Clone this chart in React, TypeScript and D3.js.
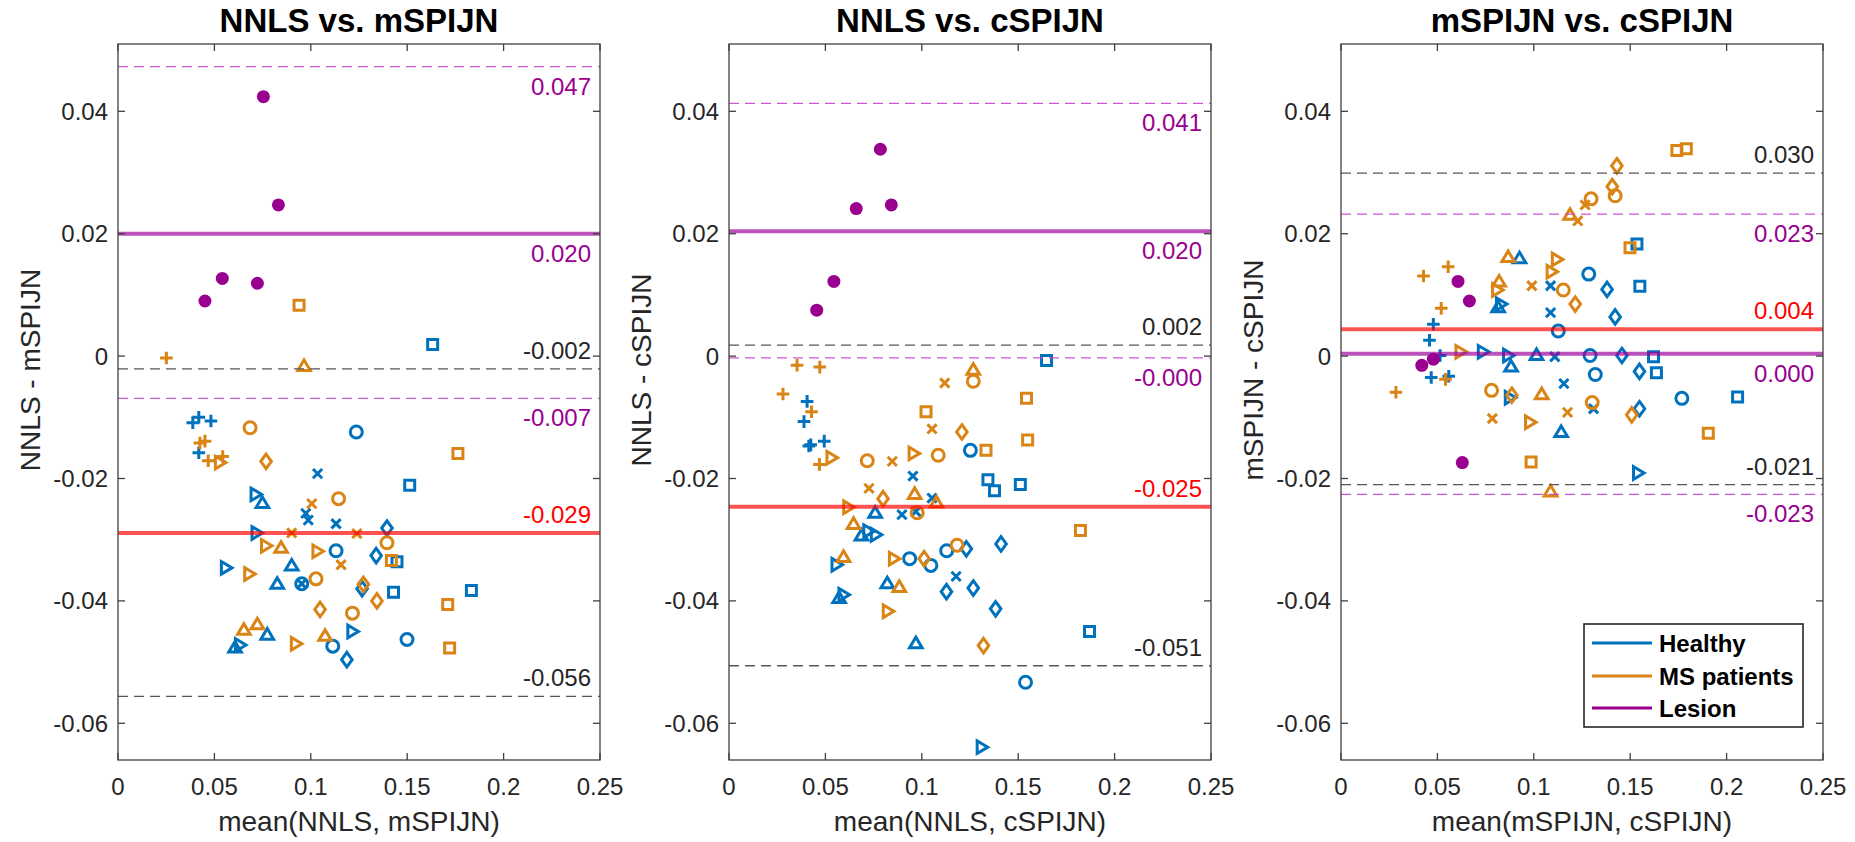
import React from "react";
import * as d3 from "d3";

// ---------------- DATA ----------------
const titles = ["NNLS vs. mSPIJN", "NNLS vs. cSPIJN", "mSPIJN vs. cSPIJN"];
const xLabels = ["mean(NNLS, mSPIJN)", "mean(NNLS, cSPIJN)", "mean(mSPIJN, cSPIJN)"];
const yLabels = ["NNLS - mSPIJN", "NNLS - cSPIJN", "mSPIJN - cSPIJN"];
const xTicks = [0, 0.05, 0.1, 0.15, 0.2, 0.25];
const yTicks = [-0.06, -0.04, -0.02, 0, 0.02, 0.04];
const legendItems = ["Healthy", "MS patients", "Lesion"];

type Pt = [string, number, number];

const p1Healthy: Pt[] = [
  ["+", 0.0388, -0.0109], ["+", 0.0419, -0.01], ["+", 0.0482, -0.0106], ["+", 0.0419, -0.0158],
  ["o", 0.1236, -0.0124], ["o", 0.1131, -0.0318], ["o", 0.0953, -0.0372], ["o", 0.1114, -0.0474], ["o", 0.1499, -0.0463],
  ["x", 0.1035, -0.0192], ["x", 0.0974, -0.0257], ["x", 0.0987, -0.0268], ["x", 0.1131, -0.0274], ["x", 0.0953, -0.0372],
  ["s", 0.1513, -0.0211], ["s", 0.1447, -0.0336], ["s", 0.1429, -0.0386], ["s", 0.1833, -0.0383], ["s", 0.1632, 0.0019],
  ["d", 0.1395, -0.0281], ["d", 0.1339, -0.0326], ["d", 0.1266, -0.038], ["d", 0.1187, -0.0496],
  ["^", 0.0749, -0.024], ["^", 0.0901, -0.0342], ["^", 0.0826, -0.0372], ["^", 0.0774, -0.0455], ["^", 0.0607, -0.0476],
  [">", 0.0714, -0.0226], [">", 0.0719, -0.0289], [">", 0.056, -0.0346], [">", 0.1216, -0.045], [">", 0.0633, -0.0472],
];
const p1MS: Pt[] = [
  ["+", 0.0425, -0.0142], ["+", 0.0451, -0.0139], ["+", 0.0468, -0.0171], ["+", 0.0543, -0.0164], ["+", 0.0251, -0.0003],
  ["o", 0.0685, -0.0117], ["o", 0.1144, -0.0233], ["o", 0.1395, -0.0305], ["o", 0.1027, -0.0364], ["o", 0.1216, -0.042],
  ["x", 0.1005, -0.0241], ["x", 0.0901, -0.0289], ["x", 0.1239, -0.029], ["x", 0.1157, -0.0341],
  ["s", 0.1763, -0.0159], ["s", 0.1418, -0.0334], ["s", 0.171, -0.0406], ["s", 0.172, -0.0477], ["s", 0.0939, 0.0083],
  ["d", 0.0768, -0.0172], ["d", 0.1273, -0.0373], ["d", 0.1343, -0.04], ["d", 0.1048, -0.0414],
  ["^", 0.0846, -0.0313], ["^", 0.0653, -0.0447], ["^", 0.0723, -0.0438], ["^", 0.1074, -0.0457], ["^", 0.0965, -0.0016],
  [">", 0.0529, -0.0174], [">", 0.0768, -0.031], [">", 0.1035, -0.0319], [">", 0.0681, -0.0356], [">", 0.0923, -0.047],
];
const p1Lesion: [number, number][] = [
  [0.0754, 0.0424], [0.0832, 0.0247], [0.0541, 0.0127], [0.0451, 0.009], [0.0723, 0.0119],
];

const p2Healthy: Pt[] = [
  ["+", 0.0405, -0.0074], ["+", 0.0389, -0.0107], ["+", 0.0414, -0.0147], ["+", 0.0424, -0.0145], ["+", 0.0494, -0.0139],
  ["o", 0.1252, -0.0154], ["o", 0.1129, -0.0318], ["o", 0.0937, -0.0331], ["o", 0.1047, -0.0342], ["o", 0.1538, -0.0533],
  ["x", 0.0954, -0.0196], ["x", 0.1053, -0.0232], ["x", 0.0897, -0.0259], ["x", 0.0969, -0.0254], ["x", 0.1178, -0.036],
  ["s", 0.1647, -0.0007], ["s", 0.1343, -0.0202], ["s", 0.1377, -0.022], ["s", 0.1511, -0.021], ["s", 0.187, -0.045],
  ["d", 0.1231, -0.0315], ["d", 0.1411, -0.0307], ["d", 0.1128, -0.0385], ["d", 0.1267, -0.0379], ["d", 0.1383, -0.0413],
  ["^", 0.0758, -0.0256], ["^", 0.0687, -0.0293], ["^", 0.0821, -0.0371], ["^", 0.0571, -0.0395], ["^", 0.0969, -0.0469],
  [">", 0.0723, -0.0286], [">", 0.0762, -0.0292], [">", 0.0558, -0.0341], [">", 0.0594, -0.039], [">", 0.1311, -0.0639],
];
const p2MS: Pt[] = [
  ["+", 0.0353, -0.0015], ["+", 0.0471, -0.0018], ["+", 0.028, -0.0062], ["+", 0.0428, -0.0091], ["+", 0.0469, -0.0177],
  ["o", 0.1267, -0.0041], ["o", 0.1085, -0.0162], ["o", 0.0717, -0.0171], ["o", 0.0976, -0.0256], ["o", 0.1183, -0.0309],
  ["x", 0.1119, -0.0044], ["x", 0.1053, -0.0119], ["x", 0.0847, -0.0172], ["x", 0.0726, -0.0216],
  ["s", 0.1543, -0.0069], ["s", 0.1022, -0.0091], ["s", 0.1549, -0.0137], ["s", 0.1333, -0.0154], ["s", 0.1823, -0.0285],
  ["d", 0.1208, -0.0124], ["d", 0.0799, -0.0233], ["d", 0.1012, -0.0331], ["d", 0.132, -0.0473],
  ["^", 0.1267, -0.0022], ["^", 0.0963, -0.0225], ["^", 0.1076, -0.0239], ["^", 0.0646, -0.0274], ["^", 0.0594, -0.0328], ["^", 0.0883, -0.0377],
  [">", 0.0532, -0.0166], [">", 0.0958, -0.0159], [">", 0.0619, -0.0247], [">", 0.0856, -0.0331], [">", 0.0824, -0.0417],
];
const p2Lesion: [number, number][] = [
  [0.066, 0.0241], [0.0785, 0.0338], [0.0842, 0.0247], [0.0544, 0.0122], [0.0455, 0.0075],
];

const p3Healthy: Pt[] = [
  ["+", 0.0479, 0.0052], ["+", 0.0459, 0.0026], ["+", 0.0514, 0.0001], ["+", 0.0468, -0.0035], ["+", 0.0559, -0.0033],
  ["o", 0.1285, 0.0134], ["o", 0.1127, 0.0041], ["o", 0.1292, 0.0001], ["o", 0.1319, -0.003], ["o", 0.1768, -0.0069],
  ["x", 0.1087, 0.0115], ["x", 0.1087, 0.0071], ["x", 0.1109, -0.0001], ["x", 0.1156, -0.0045], ["x", 0.131, -0.0086],
  ["s", 0.1535, 0.0183], ["s", 0.155, 0.0114], ["s", 0.1621, -0.0001], ["s", 0.1636, -0.0027], ["s", 0.2057, -0.0067],
  ["d", 0.138, 0.0109], ["d", 0.1422, 0.0064], ["d", 0.1457, 0.0001], ["d", 0.1548, -0.0025], ["d", 0.1548, -0.0086],
  ["^", 0.0926, 0.016], ["^", 0.0815, 0.008], ["^", 0.1014, 0.0002], ["^", 0.0882, -0.0017], ["^", 0.1142, -0.0124],
  [">", 0.083, 0.0085], [">", 0.0736, 0.0007], [">", 0.0867, 0.0001], [">", 0.0876, -0.0068], [">", 0.1541, -0.0191],
];
const p3MS: Pt[] = [
  ["+", 0.0556, 0.0146], ["+", 0.0428, 0.0131], ["+", 0.052, 0.0078], ["+", 0.0542, -0.0038], ["+", 0.0285, -0.0059],
  ["o", 0.1422, 0.0262], ["o", 0.1297, 0.0257], ["o", 0.1153, 0.0108], ["o", 0.0781, -0.0056], ["o", 0.1303, -0.0076],
  ["x", 0.1266, 0.0247], ["x", 0.1228, 0.0221], ["x", 0.099, 0.0115], ["x", 0.0785, -0.0102], ["x", 0.1175, -0.0092],
  ["s", 0.1742, 0.0336], ["s", 0.1791, 0.0339], ["s", 0.1499, 0.0177], ["s", 0.1905, -0.0126], ["s", 0.0986, -0.0173],
  ["d", 0.1431, 0.0311], ["d", 0.1407, 0.0277], ["d", 0.1215, 0.0085], ["d", 0.0886, -0.0064], ["d", 0.1508, -0.0096],
  ["^", 0.1188, 0.0231], ["^", 0.0867, 0.0162], ["^", 0.082, 0.0122], ["^", 0.1041, -0.0062], ["^", 0.1087, -0.0221],
  [">", 0.112, 0.0158], [">", 0.1093, 0.0138], [">", 0.081, 0.0108], [">", 0.062, 0.0007], [">", 0.0981, -0.0108],
];
const p3Lesion: [number, number][] = [
  [0.0607, 0.0122], [0.0666, 0.009], [0.0479, -0.0005], [0.0419, -0.0015], [0.0629, -0.0174],
];

// reference lines: [value, kind]
const p1Lines: [number, string][] = [
  [0.0473, "lesionLoa"], [0.02, "lesionMean"], [-0.0021, "loa"], [-0.0069, "lesionLoa"], [-0.0289, "mean"], [-0.0556, "loa"],
];
const p2Lines: [number, string][] = [
  [0.0413, "lesionLoa"], [0.0204, "lesionMean"], [0.0018, "loa"], [-0.0003, "lesionLoa"], [-0.0246, "mean"], [-0.0506, "loa"],
];
const p3Lines: [number, string][] = [
  [0.0299, "loa"], [0.0232, "lesionLoa"], [0.0044, "mean"], [0.0004, "lesionMean"], [-0.021, "loa"], [-0.0226, "lesionLoa"],
];

const panels = [
  { healthy: p1Healthy, ms: p1MS, lesion: p1Lesion, lines: p1Lines },
  { healthy: p2Healthy, ms: p2MS, lesion: p2Lesion, lines: p2Lines },
  { healthy: p3Healthy, ms: p3MS, lesion: p3Lesion, lines: p3Lines },
];

// ---------------- STYLE / LAYOUT ----------------
const W = 1855;
const H = 842;
const panelLefts = [118, 729, 1341];
const plotW = 482;
const plotTop = 44;
const plotBottom = 760;
const FONT = "'Liberation Sans', Arial, Helvetica, sans-serif";
const BLUE = "#0072BD";
const ORANGE = "#DA8415";
const PURPLE = "#990090";
const AXIS = "#404040";

const colorOf = [BLUE, ORANGE, PURPLE];

function markerPath(m: string): string {
  switch (m) {
    case "+": return "M-6.3,0H6.3M0,-6.3V6.3";
    case "x": return "M-4.6,-4.6L4.6,4.6M-4.6,4.6L4.6,-4.6";
    case "o": return "M6,0A6,6 0 1,1 -6,0A6,6 0 1,1 6,0Z";
    case "s": return "M-5,-5H5V5H-5Z";
    case "d": return "M0,-7.3L5.3,0L0,7.3L-5.3,0Z";
    case "^": return "M0,-6L6.3,4.6L-6.3,4.6Z";
    case ">": return "M6,0L-4.6,6.3L-4.6,-6.3Z";
    default: return "";
  }
}

const lineStyle: Record<string, any> = {
  mean: { stroke: "#FF0000", opacity: 0.68, width: 4, dash: undefined, label: "#FF0000", above: true },
  lesionMean: { stroke: "#990099", opacity: 0.68, width: 4, dash: undefined, label: PURPLE, above: false },
  loa: { stroke: "#555555", opacity: 1, width: 1.3, dash: "10 6", label: "#262626", above: true },
  lesionLoa: { stroke: "#CC44CC", opacity: 0.9, width: 1.3, dash: "10 6", label: PURPLE, above: false },
};

function Panel({ idx }: { idx: number }) {
  const p = panels[idx];
  const left = panelLefts[idx];
  const right = left + plotW;
  const x = d3.scaleLinear().domain([0, 0.25]).range([left, right]);
  const y = d3.scaleLinear().domain([-0.066, 0.051]).range([plotBottom, plotTop]);
  const fmtTick = (v: number) => (Math.abs(v) < 1e-9 ? "0" : String(+v.toFixed(2)));
  const cx = (left + right) / 2;
  const tickLen = 7;

  return (
    <g>
      {/* points */}
      {[p.healthy, p.ms].map((arr, gi) => (
        <g key={gi} fill="none" stroke={colorOf[gi]} strokeWidth={3}>
          {arr.map((d, i) => (
            <path key={i} d={markerPath(d[0])} transform={`translate(${x(d[1])},${y(d[2])})`} />
          ))}
        </g>
      ))}
      <g fill={PURPLE}>
        {p.lesion.map((d, i) => (
          <circle key={i} cx={x(d[0])} cy={y(d[1])} r={6.5} />
        ))}
      </g>
      {/* reference lines */}
      {p.lines.map(([v, kind], i) => {
        const s = lineStyle[kind];
        return (
          <line key={i} x1={left} x2={right} y1={y(v)} y2={y(v)} stroke={s.stroke}
            strokeOpacity={s.opacity} strokeWidth={s.width} strokeDasharray={s.dash} />
        );
      })}
      {p.lines.map(([v, kind], i) => {
        const s = lineStyle[kind];
        return (
          <text key={i} x={right - 9} y={s.above ? y(v) - 10 : y(v) + 28} textAnchor="end"
            fontSize={24} fill={s.label} fontFamily={FONT}>
            {v.toFixed(3)}
          </text>
        );
      })}
      {/* box */}
      <rect x={left} y={plotTop} width={plotW} height={plotBottom - plotTop} fill="none" stroke={AXIS} strokeWidth={1.3} />
      {/* ticks */}
      {xTicks.map((t, i) => (
        <g key={i}>
          <line x1={x(t)} x2={x(t)} y1={plotBottom} y2={plotBottom - tickLen} stroke={AXIS} strokeWidth={1.3} />
          <line x1={x(t)} x2={x(t)} y1={plotTop} y2={plotTop + tickLen} stroke={AXIS} strokeWidth={1.3} />
          <text x={x(t)} y={plotBottom + 35} textAnchor="middle" fontSize={24} fill="#262626" fontFamily={FONT}>
            {fmtTick(t)}
          </text>
        </g>
      ))}
      {yTicks.map((t, i) => (
        <g key={i}>
          <line x1={left} x2={left + tickLen} y1={y(t)} y2={y(t)} stroke={AXIS} strokeWidth={1.3} />
          <line x1={right} x2={right - tickLen} y1={y(t)} y2={y(t)} stroke={AXIS} strokeWidth={1.3} />
          <text x={left - 10} y={y(t) + 8.5} textAnchor="end" fontSize={24} fill="#262626" fontFamily={FONT}>
            {fmtTick(t)}
          </text>
        </g>
      ))}
      {/* title and labels */}
      <text x={cx} y={32} textAnchor="middle" fontSize={33} fontWeight="bold" fill="#000" fontFamily={FONT}>
        {titles[idx]}
      </text>
      <text x={cx} y={831} textAnchor="middle" fontSize={28} fill="#262626" fontFamily={FONT}>
        {xLabels[idx]}
      </text>
      <text transform={`translate(${left - 78},370) rotate(-90)`} textAnchor="middle" fontSize={28}
        fill="#262626" fontFamily={FONT}>
        {yLabels[idx]}
      </text>
    </g>
  );
}

function Legend() {
  const bx = 1584, by = 624, bw = 219, bh = 103;
  const rows = [643, 676, 708];
  return (
    <g>
      <rect x={bx} y={by} width={bw} height={bh} fill="#fff" stroke="#262626" strokeWidth={1.6} />
      {legendItems.map((name, i) => (
        <g key={i}>
          <line x1={1592} x2={1652} y1={rows[i]} y2={rows[i]} stroke={colorOf[i]} strokeWidth={3} />
          <text x={1659} y={rows[i] + 8.5} fontSize={24} fontWeight="bold" fill="#000" fontFamily={FONT}>
            {name}
          </text>
        </g>
      ))}
    </g>
  );
}

export default function App() {
  return (
    <svg width={W} height={H} viewBox={`0 0 ${W} ${H}`}
      style={{ position: "absolute", left: 0, top: 0, background: "#fff" }}>
      <rect x={0} y={0} width={W} height={H} fill="#fff" />
      {[0, 1, 2].map((i) => <Panel key={i} idx={i} />)}
      <Legend />
    </svg>
  );
}
